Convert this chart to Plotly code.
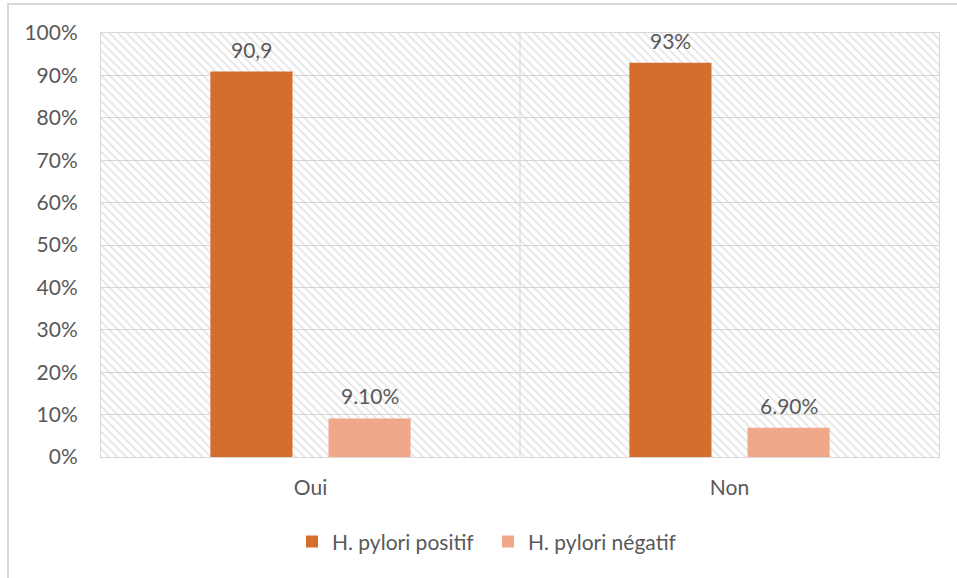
import plotly.graph_objects as go

# --- data -------------------------------------------------------------
categories = ["Oui", "Non"]
positif = [90.9, 93.0]
negatif = [9.1, 6.9]
positif_labels = ["90,9", "93%"]
negatif_labels = ["9.10%", "6.90%"]
series_names = ["H. pylori positif", "H. pylori négatif"]
y_ticks = [0, 10, 20, 30, 40, 50, 60, 70, 80, 90, 100]
y_tick_labels = ["0%", "10%", "20%", "30%", "40%", "50%", "60%", "70%", "80%", "90%", "100%"]

# --- styling ----------------------------------------------------------
W, H = 957, 578
M_L, M_R, M_T, M_B = 101, 18, 33, 121
PLOT_W = W - M_L - M_R
PLOT_H = H - M_T - M_B
CAT_PX = PLOT_W / len(categories)
BAR_W = 0.196
POS_OFF = -0.239
NEG_OFF = 0.043
TXT = "#595959"
GRID = "#D9D9D9"
FONT = "Lato, Calibri, sans-serif"
FS = 21

fig = go.Figure()

# hatched plot-area background
fig.add_trace(go.Bar(
    x=categories, y=[100] * len(categories), width=1, offset=-0.5,
    marker=dict(color="rgba(0,0,0,0)", line=dict(width=0),
                pattern=dict(shape="\\", fgcolor="#C8C8C8", bgcolor="rgba(0,0,0,0)",
                             size=6, solidity=0.27)),
    showlegend=False, hoverinfo="skip",
))

fig.add_trace(go.Bar(
    x=categories, y=positif, name=series_names[0], width=BAR_W, offset=POS_OFF,
    marker=dict(color="#D36E2C", line=dict(width=0)),
))
fig.add_trace(go.Bar(
    x=categories, y=negatif, name=series_names[1], width=BAR_W, offset=NEG_OFF,
    marker=dict(color="#F1A78A", line=dict(width=0)),
))

# value labels above bars
for vals, labels, off in ((positif, positif_labels, POS_OFF), (negatif, negatif_labels, NEG_OFF)):
    for cat, v, lab in zip(categories, vals, labels):
        fig.add_annotation(
            x=cat, y=v, text=lab, showarrow=False, yanchor="bottom",
            xshift=(off + BAR_W / 2) * CAT_PX, yshift=8,
            font=dict(size=FS, color=TXT, family=FONT),
        )

# divider between categories
fig.add_shape(type="line", xref="paper", yref="paper", x0=0.5, x1=0.5, y0=0, y1=1,
              line=dict(color=GRID, width=1), layer="below")
# chart frame
fig.add_shape(type="rect", xref="paper", yref="paper",
              x0=(8 - M_L) / PLOT_W, x1=1.05,
              y0=-0.35, y1=(H - M_B - 4) / PLOT_H,
              line=dict(color="#D9D9D9", width=2), layer="below")

fig.update_layout(
    width=W, height=H, barmode="overlay",
    margin=dict(l=M_L, r=M_R, t=M_T, b=M_B),
    paper_bgcolor="white", plot_bgcolor="white",
    font=dict(family=FONT, color=TXT, size=FS),
    legend=dict(orientation="h", x=(292 - M_L) / PLOT_W, xanchor="left",
                y=-0.2, yanchor="middle", entrywidth=151, entrywidthmode="pixels",
                font=dict(size=FS, color=TXT, family=FONT), traceorder="normal"),
    xaxis=dict(range=[-0.5, 1.5], showgrid=False, ticks="", showline=True, linecolor=GRID,
               mirror=True, ticklabelstandoff=12, tickfont=dict(size=FS, color=TXT)),
    yaxis=dict(range=[0, 100], tickvals=y_ticks, ticktext=y_tick_labels, showgrid=True,
               gridcolor=GRID, gridwidth=1, zeroline=False, showline=True, linecolor=GRID,
               mirror=True, ticks="", ticklabelstandoff=18, tickfont=dict(size=FS, color=TXT)),
    hovermode=False,
)

fig.write_html("out.html")
